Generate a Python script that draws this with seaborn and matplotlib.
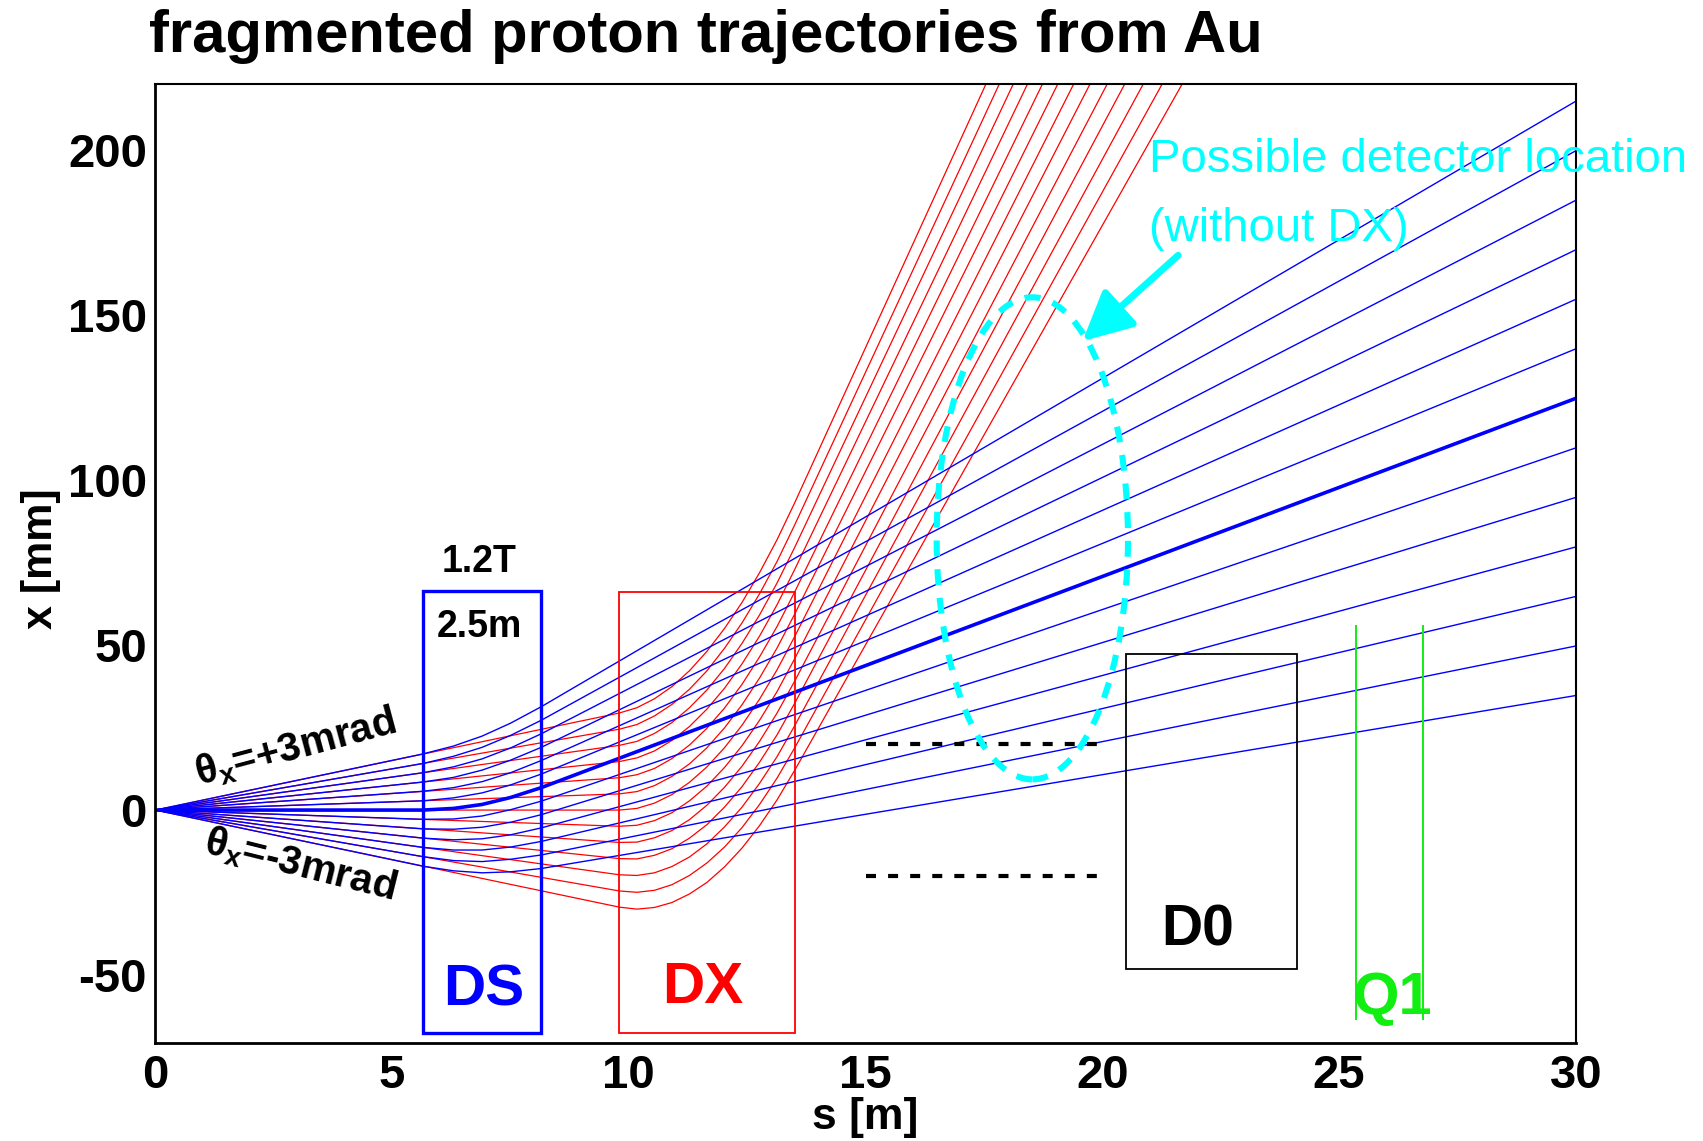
import numpy as np
import pandas as pd
import matplotlib
matplotlib.use("Agg")
import matplotlib.pyplot as plt
from matplotlib.patches import Rectangle, Ellipse
import seaborn as sns

# ---------------------------------------------
# data
# ---------------------------------------------
theta_mrad = [-3, -2.5, -2, -1.5, -1, -0.5, 0, 0.5, 1, 1.5, 2, 2.5, 3]

# blue tracks (DS field only), x [mm] at each s station [m]
s_blue = [0, 5.65, 6.3, 6.9, 7.5, 8.15, 30]
x_blue = [
    [0, -17.0, -18.4, -19.0, -18.7, -17.7, 34.7],
    [0, -14.1, -15.3, -15.6, -14.9, -13.6, 49.7],
    [0, -11.3, -12.1, -12.1, -11.2, -9.5, 64.7],
    [0, -8.5, -9.0, -8.7, -7.5, -5.4, 79.7],
    [0, -5.7, -5.8, -5.2, -3.7, -1.4, 94.7],
    [0, -2.8, -2.7, -1.8, 0.1, 2.7, 109.7],
    [0, 0.0, 0.5, 1.7, 3.8, 6.8, 124.7],
    [0, 2.8, 3.7, 5.2, 7.6, 10.9, 139.7],
    [0, 5.7, 6.8, 8.6, 11.3, 15.0, 154.7],
    [0, 8.5, 9.9, 12.1, 15.1, 19.0, 169.7],
    [0, 11.3, 13.1, 15.5, 18.8, 23.1, 184.7],
    [0, 14.1, 16.3, 19.0, 22.6, 27.2, 199.7],
    [0, 17.0, 19.4, 22.4, 26.3, 31.3, 214.7],
]

# red tracks (bent by DX)
s_red = [0, 9.8, 10.17, 10.54, 10.91, 11.28, 11.65, 12.02, 12.39, 12.76, 13.13, 13.5, 22.0]
x_red = [
    [0, -29.4, -30.0, -29.5, -28.0, -25.4, -21.9, -17.2, -11.5, -4.7, 3.1, 12.0, 227.9],
    [0, -24.5, -24.9, -24.3, -22.6, -19.8, -16.0, -11.2, -5.3, 1.7, 9.7, 18.8, 239.0],
    [0, -19.6, -19.8, -19.0, -17.1, -14.2, -10.2, -5.1, 0.9, 8.1, 16.2, 25.5, 249.9],
    [0, -14.7, -14.8, -13.7, -11.7, -8.5, -4.4, 0.9, 7.1, 14.5, 22.8, 32.3, 261.0],
    [0, -9.8, -9.7, -8.4, -6.2, -2.9, 1.5, 6.9, 13.3, 20.8, 29.4, 39.0, 271.9],
    [0, -4.9, -4.6, -3.2, -0.8, 2.8, 7.3, 12.9, 19.5, 27.2, 35.9, 45.8, 283.0],
    [0, 0.0, 0.5, 2.1, 4.7, 8.4, 13.1, 18.9, 25.7, 33.6, 42.5, 52.5, 293.9],
    [0, 4.9, 5.6, 7.4, 10.2, 14.0, 18.9, 24.9, 31.9, 40.0, 49.1, 59.3, 304.9],
    [0, 9.8, 10.7, 12.6, 15.6, 19.7, 24.8, 30.9, 38.1, 46.4, 55.6, 66.0, 315.9],
    [0, 14.7, 15.8, 17.9, 21.1, 25.3, 30.6, 36.9, 44.3, 52.7, 62.2, 72.8, 327.0],
    [0, 19.6, 20.8, 23.2, 26.5, 31.0, 36.4, 42.9, 50.5, 59.1, 68.8, 79.5, 337.9],
    [0, 24.5, 25.9, 28.5, 32.0, 36.6, 42.2, 49.0, 56.7, 65.5, 75.3, 86.3, 349.0],
    [0, 29.4, 31.0, 33.7, 37.4, 42.2, 48.1, 55.0, 62.9, 71.9, 81.9, 93.0, 359.9],
]

# magnets: name, s from, s to, x low, x high
magnet_names = ["DS", "DX", "D0"]
magnet_s0 = [5.65, 9.8, 20.5]
magnet_s1 = [8.15, 13.5, 24.1]
magnet_x0 = [-67.5, -67.5, -48.0]
magnet_x1 = [66.4, 66.1, 47.2]

q1_s = [25.35, 26.77]
q1_x = [-63.6, 56.2]

dash_x = [20, -20]
dash_s = [15, 20]

det_center = (18.52, 82.3)
det_size = (4.04, 146)

# ---------------------------------------------
# long tables for seaborn
# ---------------------------------------------
blue_rows = []
for th, xs in zip(theta_mrad, x_blue):
    for s, x in zip(s_blue, xs):
        blue_rows.append((th, s, x))
df_blue = pd.DataFrame(blue_rows, columns=["theta", "s", "x"])

red_rows = []
for th, xs in zip(theta_mrad, x_red):
    for s, x in zip(s_red, xs):
        red_rows.append((th, s, x))
df_red = pd.DataFrame(red_rows, columns=["theta", "s", "x"])

# ---------------------------------------------
# plot
# ---------------------------------------------
sns.set_theme(style="white")
plt.rcParams["font.family"] = ["Liberation Sans", "DejaVu Sans"]
plt.rcParams["font.weight"] = "bold"
plt.rcParams["mathtext.default"] = "regular"
plt.rcParams["text.color"] = "black"
plt.rcParams["axes.labelcolor"] = "black"
plt.rcParams["xtick.color"] = "black"
plt.rcParams["ytick.color"] = "black"
plt.rcParams["axes.unicode_minus"] = False

fig = plt.figure(figsize=(17.03, 11.41), dpi=100)
ax = fig.add_axes([0.0912, 0.0863, 0.8342, 0.8404])

sns.lineplot(data=df_red, x="s", y="x", units="theta", estimator=None, sort=False,
             color="#ff0000", lw=0.9, ax=ax, legend=False)
sns.lineplot(data=df_blue[df_blue.theta != 0], x="s", y="x", units="theta",
             estimator=None, sort=False, color="#0000ff", lw=1.0, ax=ax, legend=False)
sns.lineplot(data=df_blue[df_blue.theta == 0], x="s", y="x", estimator=None,
             sort=False, color="#0000ff", lw=2.6, ax=ax, legend=False)

mag_colors = ["#0000ff", "#ff0000", "black"]
mag_lw = [2.4, 1.3, 1.3]
for s0, s1, x0, x1, c, w in zip(magnet_s0, magnet_s1, magnet_x0, magnet_x1, mag_colors, mag_lw):
    ax.add_patch(Rectangle((s0, x0), s1 - s0, x1 - x0, fill=False, ec=c, lw=w, zorder=5))

ax.vlines(q1_s, q1_x[0], q1_x[1], color="#11ee11", lw=1.4, zorder=5)
ax.hlines(dash_x, dash_s[0], dash_s[1], color="black", lw=3.0,
          linestyles=[(0, (2.4, 2.9))], zorder=6)

ax.add_patch(Ellipse(det_center, det_size[0], det_size[1], fill=False, ec="#00ffff",
                     lw=4.4, linestyle=(0, (2.6, 2.1)), zorder=7))
ax.annotate("", xy=(19.58, 142), xytext=(21.6, 168),
            arrowprops=dict(arrowstyle="-|>,head_length=1.0,head_width=0.5",
                            color="#00ffff", lw=5, mutation_scale=30, shrinkA=0, shrinkB=0),
            zorder=7)

# labels inside the frame
ax.text(6.84, 75, "1.2T", fontsize=27, ha="center", va="center")
ax.text(6.84, 55.5, "2.5m", fontsize=27, ha="center", va="center")
ax.text(6.93, -54.6, "DS", fontsize=42, color="#0000ff", ha="center", va="center")
ax.text(11.56, -54, "DX", fontsize=42, color="#ff0000", ha="center", va="center")
ax.text(22.02, -36.5, "D0", fontsize=41, color="black", ha="center", va="center")
ax.text(26.12, -57.2, "Q1", fontsize=43, color="#11ee11", ha="center", va="center")
ax.text(2.95, 18.8, r"$\theta_x$=+3mrad", fontsize=29, rotation=15, ha="center", va="center")
ax.text(3.05, -16.5, r"$\theta_x$=-3mrad", fontsize=29, rotation=-14, ha="center", va="center")
ax.text(20.99, 197, "Possible detector location", fontsize=34, color="#00ffff",
        fontweight="normal", ha="left", va="center")
ax.text(20.99, 176, "(without DX)", fontsize=34, color="#00ffff",
        fontweight="normal", ha="left", va="center")

ax.set_xlim(0, 30)
ax.set_ylim(-70.4, 220)
ax.set_xticks(np.arange(0, 31, 5))
ax.set_xticks(np.arange(0, 31, 1), minor=True)
ax.set_yticks(np.arange(-50, 201, 50))
ax.set_yticks(np.arange(-70, 221, 10), minor=True)
ax.set_xlabel("")
ax.set_ylabel("")
ax.tick_params(axis="both", which="both", direction="in", top=False, right=False,
               width=1.6, colors="black", labelsize=34)
ax.tick_params(axis="x", which="major", length=21, pad=8)
ax.tick_params(axis="x", which="minor", length=11)
ax.tick_params(axis="y", which="major", length=32, pad=6)
ax.tick_params(axis="y", which="minor", length=16)
for lab in ax.get_xticklabels() + ax.get_yticklabels():
    lab.set_fontweight("bold")
for sp in ax.spines.values():
    sp.set_color("black")
    sp.set_linewidth(1.5)
ax.spines["left"].set_linewidth(2.0)
ax.spines["bottom"].set_linewidth(2.0)

fig.text(149 / 1703, 1 - 52 / 1141, "fragmented proton trajectories from Au",
         fontsize=43, ha="left", va="baseline")
fig.text(41 / 1703, 1 - 559 / 1141, "x [mm]", fontsize=31, rotation=90,
         ha="center", va="center")
fig.text(865 / 1703, 1 - 1117 / 1141, "s [m]", fontsize=32, ha="center", va="center")

fig.savefig("out.png", dpi=100)
